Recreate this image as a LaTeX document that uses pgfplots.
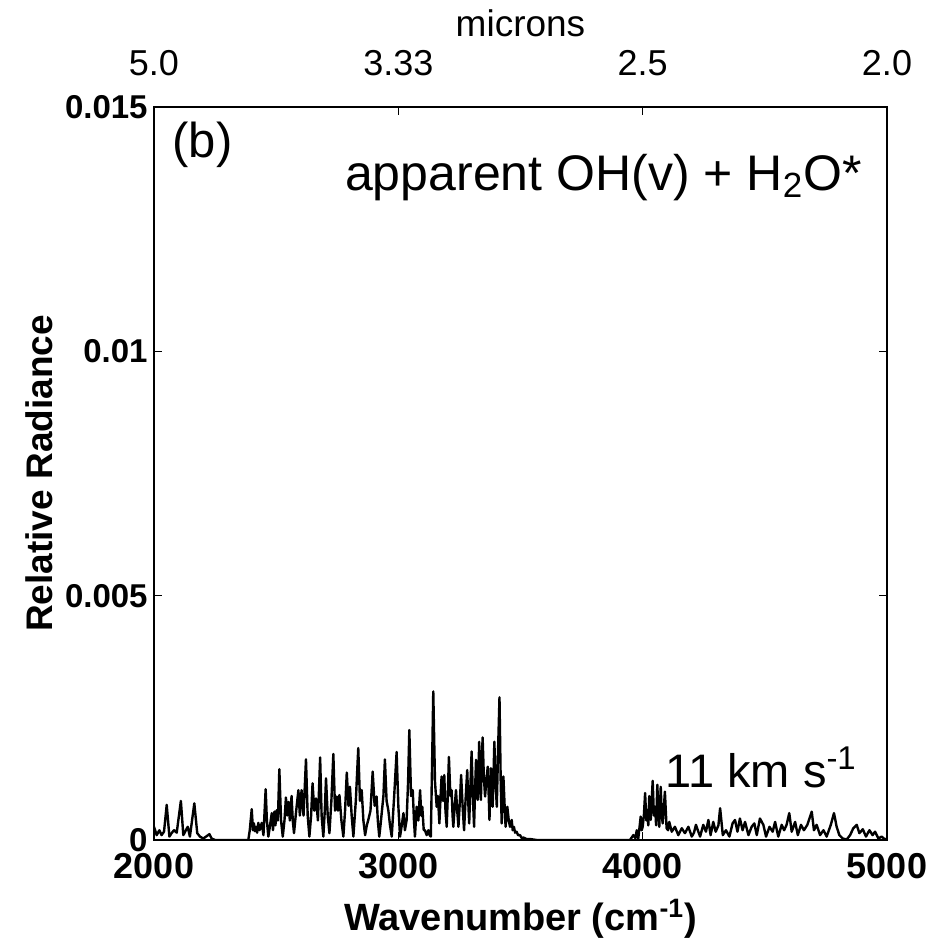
\documentclass[border=0pt]{standalone}
\usepackage{fontspec}
\setmainfont{Liberation Sans}
\usepackage{pgfplots}
\pgfplotsset{compat=1.18}
\begin{document}
\begin{tikzpicture}
\begin{axis}[
  name=main,
  at={(0,0)}, anchor=south west,
  scale only axis, width=366.5pt, height=366.5pt,
  xmin=2000, xmax=5000, ymin=0, ymax=0.015,
  xtick={2000,3000,4000,5000}, xticklabels={2000,3000,4000,5000},
  ytick={0,0.005,0.01,0.015}, yticklabels={0,0.005,0.01,0.015},
  scaled y ticks=false, scaled x ticks=false,
  tick align=inside, major tick length=4pt,
  tick style={black, line width=0.6pt},
  axis line style={line width=0.8pt},
  xticklabel style={font=\fontsize{18}{20}\selectfont\bfseries, inner sep=0pt, anchor=north, yshift=-6.5pt},
  yticklabel style={font=\fontsize{16.5}{19}\selectfont\bfseries, inner sep=0pt, anchor=east, xshift=-3pt},
  xlabel={Wavenumber (cm\textsuperscript{-1})},
  xlabel style={font=\fontsize{19}{22}\selectfont\bfseries, at={(axis description cs:0.5,-0.1228)}, anchor=base, inner sep=0pt},
  ylabel={Relative Radiance},
  ylabel style={font=\fontsize{18.5}{21}\selectfont\bfseries, at={(axis description cs:-0.139,0.5)}, anchor=base, inner sep=0pt},
]
\addplot[black, line width=1.2pt, line join=round] coordinates {
(2000,0.00027)(2011,0.0001)(2022,0.0002)(2031,0.0001)(2041,0.00017)(2052,0.00072)(2063,0.00007)(2072,0.00014)(2082,0.0002)(2093,0.00015)(2110,0.0008)(2120,0.0001)(2138,0.00027)(2147,0.00007)(2165,0.00075)(2177,0.00014)(2188,0.00007)(2202,0.00003)(2227,0.00012)(2236,0.00003)(2250,0)(2386,0)
(2392,0.0002)(2400,0.00063)(2405,0.0002)(2409,0.00034)(2413,0.00018)(2418,0.00027)(2422,0.00015)(2427,0.00035)(2432,0.0002)(2437,0.00027)(2441,0.00035)(2448,0.0001)(2457,0.00104)(2462,0.0004)(2468,0.00007)(2475,0.0003)(2482,0.00055)(2487,0.0002)(2493,0.00058)(2497,0.0003)(2502,0.00061)(2507,0.0004)(2513,0.00145)(2520,0.0004)(2527,0.00007)(2534,0.0004)(2540,0.00087)(2545,0.0005)(2550,0.00078)(2556,0.0004)(2563,0.0009)(2568,0.0004)(2573,0.00014)(2582,0.0006)(2591,0.00102)(2597,0.0005)(2604,0.00102)(2612,0.0005)(2622,0.00165)(2629,0.0005)(2636,0.00007)(2643,0.0005)(2649,0.00116)(2656,0.0006)(2663,0.00085)(2671,0.0004)(2680,0.00169)(2686,0.0005)(2693,0.00007)(2699,0.0006)(2704,0.00126)(2711,0.0005)(2718,0.00014)(2726,0.0008)(2734,0.00176)(2741,0.0006)(2748,0.00089)(2753,0.0006)(2759,0.00092)(2767,0.0004)(2775,0.00007)(2782,0.0006)(2789,0.00138)(2796,0.0007)(2802,0.00109)(2809,0.0005)(2816,0.00007)(2826,0.0008)(2836,0.00188)(2843,0.0008)(2850,0.00102)(2857,0.0004)(2864,0.0001)(2871,0.0003)(2877,0.00041)(2886,0.0006)(2895,0.0014)(2903,0.0007)(2911,0.00089)(2916,0.0004)(2922,0.00007)(2927,0.0003)(2932,0.00055)(2939,0.0009)(2945,0.00165)(2952,0.0008)(2959,0.00061)(2966,0.0003)(2973,0.00007)(2983,0.0009)(2993,0.0018)
(3000,0.0007)(3007,0.00007)(3014,0.0003)(3021,0.00055)(3027,0.0002)(3034,0.00041)(3040,0.0012)(3045,0.00225)(3052,0.0009)(3059,0.00102)(3064,0.0004)(3068,0.00007)(3075,0.00068)(3082,0.0004)(3089,0.00102)(3094,0.0005)(3098,0.00068)(3104,0.0002)(3109,0.0002)(3116,0.0001)(3123,0.0002)(3128,0.0001)(3133,0.00007)(3138,0.0015)(3143,0.00304)(3150,0.0012)(3157,0.00068)(3162,0.0009)(3168,0.00034)(3173,0.0009)(3177,0.0013)(3183,0.0008)(3188,0.00133)(3193,0.0006)(3198,0.00027)(3203,0.0010)(3207,0.0017)(3213,0.0009)(3218,0.00102)(3222,0.0005)(3225,0.00027)(3231,0.0007)(3236,0.00102)(3241,0.0006)(3246,0.00027)(3252,0.0008)(3257,0.00133)(3263,0.0007)(3269,0.0002)(3276,0.0009)(3282,0.00143)(3286,0.0008)(3290,0.00034)(3295,0.0011)(3300,0.00181)(3305,0.0009)(3310,0.00027)(3314,0.0010)(3318,0.00164)(3322,0.0011)(3325,0.00082)(3328,0.0014)(3331,0.00201)(3335,0.0012)(3338,0.00082)(3341,0.0015)(3345,0.0021)(3350,0.0013)(3355,0.00089)(3360,0.0012)(3366,0.0015)(3370,0.0009)(3373,0.00041)(3376,0.001)(3379,0.00147)(3383,0.001)(3386,0.00068)(3390,0.0014)(3393,0.00201)(3398,0.0012)(3403,0.00068)(3408,0.0018)(3414,0.00292)(3419,0.0012)(3423,0.00034)(3427,0.0009)(3430,0.0013)(3435,0.0007)(3439,0.00027)(3443,0.0005)(3446,0.00068)(3452,0.0004)(3457,0.00027)(3464,0.00041)(3468,0.0002)(3473,0.00027)(3478,0.00015)(3484,0.00017)(3490,0.0001)(3498,0.0001)(3505,0.00004)(3512,0.00005)(3525,0.00002)(3539,0.00002)(3566,0)(3948,0)
(3962,0.0001)(3970,0.00004)(3976,0.0002)(3982,0.00003)(3992,0.00048)(3996,0.0002)(4000,0.00027)(4005,0.0005)(4010,0.00096)(4015,0.0004)(4019,0.00061)(4023,0.0003)(4027,0.0009)(4033,0.00041)(4037,0.0008)(4041,0.00121)(4046,0.0005)(4051,0.00068)(4055,0.0003)(4060,0.00113)(4064,0.0006)(4068,0.00027)(4074,0.00109)(4078,0.0005)(4082,0.00034)(4086,0.0006)(4091,0.00099)(4098,0.00024)(4104,0.0002)(4109,0.00037)(4119,0.00017)(4132,0.00027)(4146,0.0001)(4160,0.00024)(4173,0.00014)(4187,0.00027)(4201,0.00007)(4210,0.00015)(4218,0.00031)(4235,0.00007)(4248,0.00031)(4259,0.00017)(4269,0.00041)(4278,0.0001)(4289,0.00037)(4299,0.00017)(4310,0.0003)(4317,0.00065)(4328,0.0001)(4341,0.0002)(4355,0.00007)(4368,0.00034)(4378,0.00041)(4388,0.00017)(4398,0.00044)(4409,0.0002)(4419,0.00037)(4433,0.0001)(4446,0.00027)(4457,0.00034)(4467,0.0001)(4480,0.00044)(4494,0.00031)(4505,0.00007)(4519,0.00027)(4532,0.00017)(4542,0.00037)(4555,0.00007)(4569,0.00031)(4579,0.0002)(4589,0.00031)(4600,0.00055)(4610,0.00017)(4624,0.00037)(4635,0.0001)(4648,0.00031)(4660,0.0002)(4674,0.00031)(4692,0.00058)(4701,0.0002)(4712,0.00031)(4726,0.0001)(4740,0.0002)(4753,0.00007)(4770,0.00031)(4783,0.00055)(4794,0.00027)(4805,0.0001)(4819,0.00003)(4835,0.00001)(4849,0.0001)(4862,0.00024)(4876,0.00031)(4887,0.00014)(4901,0.00022)(4914,0.00007)(4928,0.0002)(4941,0.0001)(4951,0.00017)(4965,0.00003)(4978,0.00007)(4992,0.00001)(5000,0.00003)
};
\node[anchor=west, inner sep=0pt, font=\fontsize{24.5}{28}\selectfont] at (axis cs:2074,0.01422) {(b)};
\node[anchor=base east, inner sep=0pt, font=\fontsize{25}{29}\selectfont] at (axis cs:4898,0.0133) {apparent OH(v) + H\textsubscript{2}O*};
\node[anchor=base east, inner sep=0pt, font=\fontsize{23.5}{27}\selectfont] at (axis cs:4878,0.00108) {11 km s\textsuperscript{-1}};
\end{axis}
\begin{axis}[
  at={(0,0)}, anchor=south west,
  scale only axis, width=366.5pt, height=366.5pt,
  xmin=2000, xmax=5000, ymin=0, ymax=0.015,
  axis x line*=top, axis y line=none,
  axis line style={draw=none},
  xtick={2000,3000,4000,5000}, xticklabels={5.0,3.33,2.5,2.0},
  major tick length=0pt,
  xticklabel style={font=\fontsize{18}{20}\selectfont, inner sep=0pt, anchor=south, yshift=15.5pt},
  xlabel={microns},
  xlabel style={font=\fontsize{18.5}{21}\selectfont, at={(axis description cs:0.5,1.0955)}, anchor=base, inner sep=0pt},
]
\end{axis}
\pgfresetboundingbox
\path[use as bounding box] (-77pt,-49pt) rectangle (389.5pt,420pt);
\end{tikzpicture}
\end{document}
